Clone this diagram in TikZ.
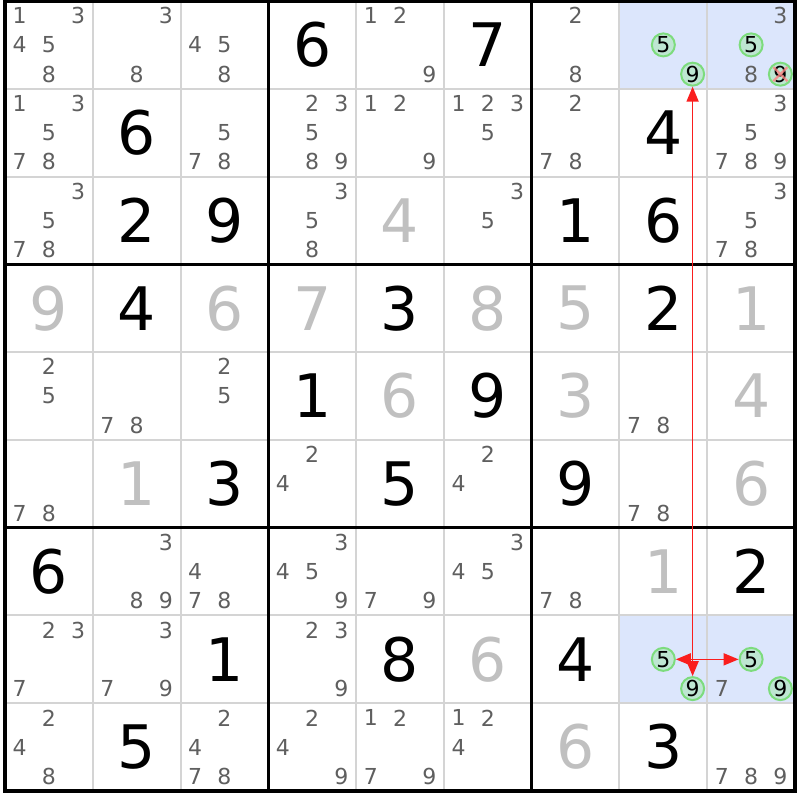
\documentclass[tikz,border=0pt]{standalone}
\usepackage{fontspec}
\setmainfont{DejaVu Sans}
\usetikzlibrary{arrows.meta}

\definecolor{candgray}{RGB}{95,95,95}
\definecolor{solvedgray}{RGB}{192,192,192}
\definecolor{gridgray}{RGB}{212,212,212}
\definecolor{hilite}{RGB}{220,230,252}
\definecolor{markgreen}{RGB}{125,220,125}
\definecolor{markfill}{RGB}{190,230,210}
\definecolor{linkred}{RGB}{250,30,30}

\tikzset{
  given/.style={font=\fontsize{30}{30}\selectfont, text=black},
  solved/.style={font=\fontsize{30}{30}\selectfont, text=solvedgray},
  cand/.style={font=\fontsize{11}{11}\selectfont, text=candgray, inner sep=0pt},
  marked/.style={circle, draw=markgreen, fill=markfill, line width=1pt,
    minimum size=11.5pt, inner sep=0pt, font=\fontsize{11}{11}\selectfont, text=black},
  link/.style={draw=linkred, line width=0.8pt, -{Triangle[length=7.5pt,width=6pt]}},
}

\begin{document}
\begin{tikzpicture}[x=0.5pt, y=-0.5pt]
        \useasboundingbox (0,0) rectangle (800,800);
        \fill[white] (0,0) rectangle (800,800);
        % highlighted cells
        \fill[hilite] (619.46,1) rectangle (795,88.78);
        \fill[hilite] (619.46,615.46) rectangle (795,703.24);
        % grid
        \foreach \i in {1,2,4,5,7,8}{
          \draw[gridgray, line width=1pt] ({5+\i*87.78},1)--({5+\i*87.78},791);
          \draw[gridgray, line width=1pt] (5,{1+\i*87.78})--(795,{1+\i*87.78});
        }
        \foreach \i in {3,6}{
          \draw[line width=1.4pt] ({5+\i*87.78},1)--({5+\i*87.78},791);
          \draw[line width=1.4pt] (5,{1+\i*87.78})--(795,{1+\i*87.78});
        }
        \draw[line width=2.2pt] (5,1) rectangle (795,791);
        % big digits
        \foreach \r/\c/\d in {1/4/6, 1/6/7, 2/2/6, 2/8/4, 3/2/2, 3/3/9, 3/7/1, 3/8/6,
            4/2/4, 4/5/3, 4/8/2, 5/4/1, 5/6/9, 6/3/3, 6/5/5, 6/7/9, 7/1/6, 7/9/2,
            8/3/1, 8/5/8, 8/7/4, 9/2/5, 9/8/3}
          \node[given] at ({5+(\c-0.5)*87.78},{1+(\r-0.5)*87.78}) {\d};
        \foreach \r/\c/\d in {3/5/4, 4/1/9, 4/3/6, 4/4/7, 4/6/8, 4/7/5, 4/9/1,
            5/5/6, 5/7/3, 5/9/4, 6/2/1, 6/9/6, 7/8/1, 8/6/6, 9/7/6}
          \node[solved] at ({5+(\c-0.5)*87.78},{1+(\r-0.5)*87.78}) {\d};
        % candidates
        \foreach \r/\c/\ds in {1/1/{1,3,4,5,8}, 1/2/{3,8}, 1/3/{4,5,8}, 1/5/{1,2,9},
            1/7/{2,8}, 1/9/{3,8}, 2/1/{1,3,5,7,8}, 2/3/{5,7,8}, 2/4/{2,3,5,8,9},
            2/5/{1,2,9}, 2/6/{1,2,3,5}, 2/7/{2,7,8}, 2/9/{3,5,7,8,9},
            3/1/{3,5,7,8}, 3/4/{3,5,8}, 3/6/{3,5}, 3/9/{3,5,7,8},
            5/1/{2,5}, 5/2/{7,8}, 5/3/{2,5}, 5/8/{7,8},
            6/1/{7,8}, 6/4/{2,4}, 6/6/{2,4}, 6/8/{7,8},
            7/2/{3,8,9}, 7/3/{4,7,8}, 7/4/{3,4,5,9}, 7/5/{7,9}, 7/6/{3,4,5}, 7/7/{7,8},
            8/1/{2,3,7}, 8/2/{3,7,9}, 8/4/{2,3,9}, 8/9/{7},
            9/1/{2,4,8}, 9/3/{2,4,7,8}, 9/4/{2,4,9}, 9/5/{1,2,7,9}, 9/6/{1,2,4}, 9/9/{7,8,9}}
          \foreach \d in \ds {
            \pgfmathsetmacro\cx{5+(\c-1)*87.78+(mod(\d-1,3)+0.5)*29.26}
            \pgfmathsetmacro\cy{1+(\r-1)*87.78+(floor((\d-1)/3)+0.5)*29.26}
            \node[cand] at (\cx,\cy) {\d};
          }
        % marked candidates
        \foreach \r/\c/\d in {1/8/5, 1/8/9, 1/9/5, 1/9/9, 8/8/5, 8/8/9, 8/9/5, 8/9/9}{
          \pgfmathsetmacro\cx{5+(\c-1)*87.78+(mod(\d-1,3)+0.5)*29.26}
          \pgfmathsetmacro\cy{1+(\r-1)*87.78+(floor((\d-1)/3)+0.5)*29.26}
          \node[marked] (m\r c\c n\d) at (\cx,\cy) {\d};
        }
        \draw[linkred!55, line width=1.2pt, opacity=0.8]
          ([shift={(-7,-7)}]m1c9n9.center)--([shift={(7,7)}]m1c9n9.center)
          ([shift={(-7,7)}]m1c9n9.center)--([shift={(7,-7)}]m1c9n9.center);
        % links
        \coordinate (jct) at (m8c8n9 |- m8c8n5);
        \draw[link] (jct)--(m1c8n9);
        \draw[link] (jct)--(m8c8n9);
        \draw[link] (jct)--(m8c8n5);
        \draw[link] (jct)--(m8c9n5);
\end{tikzpicture}
\end{document}
